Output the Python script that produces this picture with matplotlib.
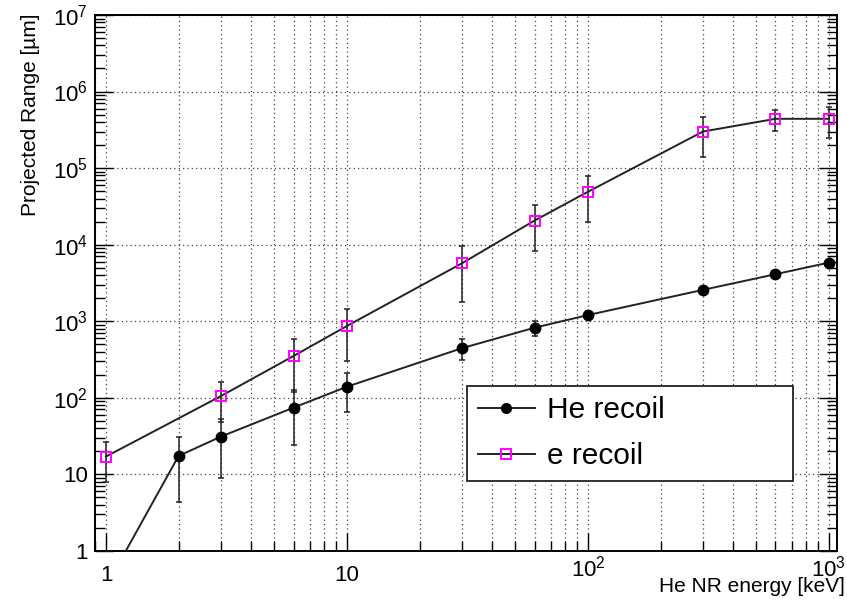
import matplotlib
matplotlib.use("Agg")
import math
import matplotlib.pyplot as plt
from matplotlib.ticker import FixedLocator, FuncFormatter, LogLocator, NullFormatter
from matplotlib.lines import Line2D
from matplotlib.transforms import ScaledTranslation

plt.rcParams['font.family'] = ['Liberation Sans', 'DejaVu Sans']
plt.rcParams['mathtext.fontset'] = 'custom'
plt.rcParams['mathtext.rm'] = 'Liberation Sans'
plt.rcParams['mathtext.it'] = 'Liberation Sans:italic'
plt.rcParams['mathtext.bf'] = 'Liberation Sans:bold'

# ---- data ----
he_energy = [1, 2, 3, 6, 10, 30, 60, 100, 300, 600, 1000]
he_range = [0.34, 17.3, 31, 74, 139, 443, 820, 1200, 2560, 4100, 5820]
he_err = [0.2, 13, 22, 50, 74, 137, 180, 150, 200, 300, 400]

e_energy = [1, 3, 6, 10, 30, 60, 100, 300, 600, 1000]
e_range = [17, 105, 350, 865, 5700, 20600, 49000, 300000, 440000, 440000]
e_err = [9, 57, 230, 560, 3900, 12300, 29000, 160000, 135000, 190000]

x_major = [1, 10, 100, 1000]
y_major = [1, 10, 100, 1e3, 1e4, 1e5, 1e6, 1e7]

W, H = 847, 601
fig = plt.figure(figsize=(W / 100, H / 100), dpi=100)
ax = fig.add_axes([95 / W, 1 - 550.7 / H, 742 / W, 535.7 / H])
ax.set_xscale('log')
ax.set_yscale('log')
ax.set_xlim(0.9, 1080)
ax.set_ylim(1, 1e7)

line_col = '#222222'
mag = '#ff00ff'

# error bars
ax.errorbar(he_energy, he_range, yerr=he_err, fmt='none', ecolor=line_col,
            elinewidth=1.1, capsize=2.5, capthick=1.1, zorder=3)
ax.errorbar(e_energy, e_range, yerr=e_err, fmt='none', ecolor=line_col,
            elinewidth=1.1, capsize=2.5, capthick=1.1, zorder=3)
# lines + markers
ax.plot(he_energy, he_range, '-', color=line_col, lw=1.4, marker='o',
        ms=7.5, mfc='black', mec='black', zorder=4, label='He recoil')
ax.plot(e_energy, e_range, '-', color=line_col, lw=1.4, marker='s',
        ms=7.5, mfc='none', mec=mag, mew=1.4, zorder=4, label='e recoil')

# ticks
def fmt(v, pos):
    e = int(round(math.log10(v)))
    if e == 0:
        return '1'
    if e == 1:
        return '10'
    return r'$\mathregular{10^{%d}}$' % e

ax.xaxis.set_major_locator(FixedLocator(x_major))
ax.xaxis.set_minor_locator(LogLocator(base=10, subs=range(2, 10), numticks=20))
ax.yaxis.set_major_locator(FixedLocator(y_major))
ax.yaxis.set_minor_locator(LogLocator(base=10, subs=range(2, 10), numticks=20))
ax.xaxis.set_major_formatter(FuncFormatter(fmt))
ax.yaxis.set_major_formatter(FuncFormatter(fmt))
ax.xaxis.set_minor_formatter(NullFormatter())
ax.yaxis.set_minor_formatter(NullFormatter())

ax.tick_params(which='both', direction='in', top=False, right=True,
               labelsize=16, width=1.0, color='black')
ax.tick_params(which='major', length=13)
ax.tick_params(which='minor', length=7)
ax.tick_params(axis='x', which='major', pad=10)
ax.tick_params(axis='y', which='major', pad=5)

ax.xaxis.grid(True, which='both', linestyle=(0, (1, 2.5)), color='#444444', lw=0.9)
ax.yaxis.grid(True, which='major', linestyle=(0, (1, 2.5)), color='#444444', lw=0.9)
ax.set_axisbelow(True)

for s in ax.spines.values():
    s.set_linewidth(1.4)

# shift exponent x labels up (ROOT style placement)
up = ScaledTranslation(0, 9 / 100, fig.dpi_scale_trans)
for v, t in zip(x_major, ax.xaxis.get_major_ticks()):
    if v >= 100:
        t.label1.set_transform(t.label1.get_transform() + up)

fig.text(845 / W, 1 - 592 / H, 'He NR energy [keV]', ha='right', va='baseline', fontsize=15)
fig.text(30 / W, 1 - 13 / H, 'Projected Range [\u00b5m]', ha='center', va='top',
         rotation=90, fontsize=15)

handles = [Line2D([], [], color=line_col, lw=1.4, marker='o', ms=7, mfc='black', mec='black'),
           Line2D([], [], color=line_col, lw=1.4, marker='s', ms=7, mfc='none', mec=mag, mew=1.4)]
leg = ax.legend(handles, ['He recoil', 'e recoil'], loc='center', mode='expand',
                bbox_to_anchor=(0.502, 0.126, 0.4386, 0.1865), fontsize=21.5,
                handlelength=1.9, handletextpad=0.42, labelspacing=0.6,
                borderpad=0.35, borderaxespad=0, numpoints=1, fancybox=False,
                framealpha=1, edgecolor='#222222')
leg.get_frame().set_linewidth(1.3)

fig.savefig('out.png', dpi=100)
